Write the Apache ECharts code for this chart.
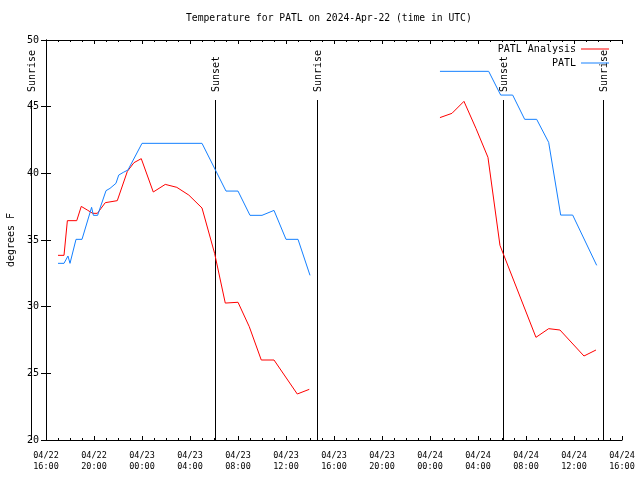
<!DOCTYPE html>
<html>
<head>
<meta charset="utf-8">
<script src="https://cdn.jsdelivr.net/npm/echarts@6/dist/echarts.min.js"></script>
<style>html,body{margin:0;padding:0;background:#fff;}#c{width:640px;height:480px;}</style>
</head>
<body>
<div id="c"></div>
<script>
// hours since 04/22 16:00 UTC
const tickLabels = ['04/22\n16:00','04/22\n20:00','04/23\n00:00','04/23\n04:00','04/23\n08:00','04/23\n12:00','04/23\n16:00','04/23\n20:00','04/24\n00:00','04/24\n04:00','04/24\n08:00','04/24\n12:00','04/24\n16:00'];

const patlHours = [1, 1.5, 1.83, 2, 2.5, 3, 3.8, 3.95, 4.3, 5, 5.33, 5.83, 6.06, 6.44, 6.83, 8, 13, 15, 16, 17, 18, 19, 20, 21, 22, 27, 32.83, 36.89, 37.89, 38.89, 39.89, 40.89, 41.89, 42.89, 43.89, 45.89];
const patlTemps = [33.25, 33.25, 33.8, 33.25, 35.05, 35.05, 37.45, 36.85, 36.85, 38.7, 38.87, 39.25, 39.87, 40.07, 40.25, 42.25, 42.25, 38.67, 38.67, 36.85, 36.85, 37.22, 35.05, 35.05, 32.35, '-', 47.65, 47.65, 45.87, 45.87, 44.05, 44.05, 42.32, 36.87, 36.87, 33.1];

const analysisHours = [1, 1.5, 1.78, 2.56, 2.94, 3.44, 3.89, 4.28, 4.94, 5.94, 6.78, 7.33, 7.94, 8.94, 9.94, 10.9, 11.9, 13, 14.05, 14.94, 16, 16.94, 17.94, 19, 20.94, 21.94, 27, 32.83, 33.83, 34.83, 35.83, 36.83, 37.83, 40.83, 41.89, 42.83, 44.83, 45.83];
const analysisTemps = [33.85, 33.85, 36.45, 36.45, 37.52, 37.25, 37.0, 37.0, 37.8, 37.95, 40.15, 40.8, 41.1, 38.6, 39.17, 38.95, 38.37, 37.4, 34.0, 30.27, 30.33, 28.5, 26.0, 26.0, 23.45, 23.8, '-', 44.18, 44.5, 45.4, 43.37, 41.2, 34.6, 27.7, 28.35, 28.25, 26.3, 26.75];

const sunHours = [-1.28, 14.11, 22.61, 38.11, 46.44];
const sunNames = ['Sunrise', 'Sunset', 'Sunrise', 'Sunset', 'Sunrise'];
const sunLineTop = 45.5;

const FONT = 'DejaVu Sans Mono';
const chart = echarts.init(document.getElementById('c'), null, {renderer: 'canvas'});

const axisLineStyle = {show: true, lineStyle: {color: '#000', width: 1}};

chart.setOption({
  animation: false,
  backgroundColor: '#fff',
  title: {
    text: 'Temperature for PATL on 2024-Apr-22 (time in UTC)',
    left: 186, top: 13, padding: 0,
    textStyle: {fontFamily: FONT, fontSize: 9.7, fontWeight: 'normal', color: '#000'}
  },
  legend: [
    {data: ['PATL Analysis'], right: 31, top: 43, padding: 0, align: 'right', icon: 'rect',
     itemWidth: 28, itemHeight: 1, itemGap: 8,
     textStyle: {fontFamily: FONT, fontSize: 10, color: '#000', lineHeight: 12}},
    {data: ['PATL'], right: 31, top: 57, padding: 0, align: 'right', icon: 'rect',
     itemWidth: 28, itemHeight: 1, itemGap: 8,
     textStyle: {fontFamily: FONT, fontSize: 10, color: '#000', lineHeight: 12}}
  ],
  grid: {left: 46, right: 18, top: 40, bottom: 40, containLabel: false, outerBoundsMode: 'none'},
  xAxis: [
    {type: 'value', min: 0, max: 48, interval: 4, position: 'bottom',
     axisLine: axisLineStyle,
     axisTick: {show: true, inside: true, length: 4, lineStyle: {color: '#000'}},
     minorTick: {show: true, splitNumber: 4, length: 2, lineStyle: {color: '#000'}},
     splitLine: {show: false},
     axisLabel: {show: true, margin: 10, fontFamily: FONT, fontSize: 8.5, color: '#000', lineHeight: 11,
       hideOverlap: false, showMinLabel: true, showMaxLabel: true,
       formatter: function (v) { return tickLabels[Math.round(v / 4)]; }}},
    {type: 'value', min: 0, max: 48, interval: 4, position: 'top',
     axisLine: axisLineStyle,
     axisTick: {show: true, inside: true, length: 4, lineStyle: {color: '#000'}},
     minorTick: {show: true, splitNumber: 4, length: 2, lineStyle: {color: '#000'}},
     splitLine: {show: false}, axisLabel: {show: false}}
  ],
  yAxis: [
    {type: 'value', min: 20, max: 50, interval: 5, position: 'left',
     name: 'degrees F', nameLocation: 'middle', nameGap: 30, nameRotate: 90,
     nameTextStyle: {fontFamily: FONT, fontSize: 10, color: '#000'},
     axisLine: axisLineStyle,
     axisTick: {show: true, inside: true, length: 5, lineStyle: {color: '#000'}},
     splitLine: {show: false},
     axisLabel: {show: true, margin: 7, fontFamily: FONT, fontSize: 10, color: '#000'}},
    {type: 'value', min: 20, max: 50, interval: 5, position: 'right',
     axisLine: axisLineStyle,
     axisTick: {show: true, inside: true, length: 5, lineStyle: {color: '#000'}},
     splitLine: {show: false}, axisLabel: {show: false}}
  ],
  series: [
    {name: 'PATL Analysis', type: 'line', xAxisIndex: 0, yAxisIndex: 0,
     data: analysisHours.map((h, i) => [h, analysisTemps[i]]),
     showSymbol: false, symbol: 'none', connectNulls: false,
     lineStyle: {color: '#ff0000', width: 1}, itemStyle: {color: '#ff0000'}},
    {name: 'PATL', type: 'line', xAxisIndex: 0, yAxisIndex: 0,
     data: patlHours.map((h, i) => [h, patlTemps[i]]),
     showSymbol: false, symbol: 'none', connectNulls: false,
     lineStyle: {color: '#1480ff', width: 1}, itemStyle: {color: '#1480ff'}},
    {name: 'sun', type: 'custom', xAxisIndex: 0, yAxisIndex: 0, clip: false, silent: true,
     data: sunHours.map(h => [h, 20]),
     renderItem: function (params, api) {
       const h = api.value(0);
       const bottom = api.coord([h, 20]);
       const top = api.coord([h, sunLineTop]);
       const x = Math.round(bottom[0]) + 0.5;
       return {
         type: 'group',
         children: [
           {type: 'line', shape: {x1: x, y1: top[1], x2: x, y2: bottom[1]},
            style: {stroke: '#000', lineWidth: 1}},
           {type: 'text', x: x + 1, y: top[1] - 8, rotation: Math.PI / 2,
            style: {text: sunNames[params.dataIndex], fill: '#000', font: '10px "' + FONT + '"',
                    align: 'left', verticalAlign: 'middle'}}
         ]
       };
     }}
  ]
});
</script>
</body>
</html>
